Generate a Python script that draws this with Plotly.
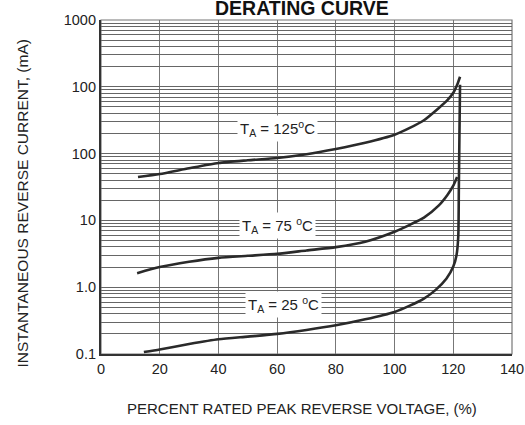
import math
import plotly.graph_objects as go

# ---- data ----
x_125 = [12.6, 20, 30, 40, 50, 60, 70, 80, 90, 100, 105, 110, 115, 118, 120, 121.5, 122.3]
y_125 = [44.7, 49.5, 60.3, 72.4, 79.4, 85.9, 97.7, 117, 145, 191, 240, 316, 479, 631, 813, 1122, 1413]

x_75 = [12.3, 20, 30, 40, 50, 60, 70, 80, 90, 100, 105, 110, 115, 118, 120, 121.3]
y_75 = [1.62, 2.00, 2.40, 2.75, 2.95, 3.16, 3.55, 3.98, 4.79, 6.76, 8.51, 11.0, 16.6, 24.0, 33.1, 44.7]

x_25 = [14.6, 20, 30, 40, 50, 60, 70, 80, 90, 100, 105, 110, 114, 117.7, 120, 121.1, 121.7, 121.9, 122.1, 122.3]
y_25 = [0.107, 0.117, 0.141, 0.166, 0.182, 0.200, 0.229, 0.269, 0.331, 0.427, 0.525, 0.676, 0.912,
        1.35, 2.04, 3.02, 5.75, 31.6, 200, 1072]

x_ticks = [0, 20, 40, 60, 80, 100, 120, 140]
y_decades = [0.1, 1, 10, 100, 1000, 10000]
y_decade_labels = ["0.1", "1.0", "10", "100", "100", "1000"]

curve_labels = ["T<sub>A</sub> = 125<sup>o</sup>C", "T<sub>A</sub> = 75 <sup>o</sup>C", "T<sub>A</sub> = 25 <sup>o</sup>C"]
label_x = [60.1, 60.0, 62.2]
label_y = [241, 8.5, 0.56]

title_text = "DERATING CURVE"
x_title = "PERCENT RATED PEAK REVERSE VOLTAGE, (%)"
y_title = "INSTANTANEOUS REVERSE CURRENT, (mA)"

# ---- build y grid (decades + minor digits) ----
tickvals, ticktext = [], []
for i, d in enumerate(y_decades):
    tickvals.append(d)
    ticktext.append(y_decade_labels[i])
    if i < len(y_decades) - 1:
        for k in range(2, 10):
            tickvals.append(d * k)
            ticktext.append("")

TICKF = "Liberation Sans, Arial, sans-serif"
REG = "Liberation Sans, Arial, sans-serif"
LINE = "#2a2a2a"

fig = go.Figure()
for xs, ys in [(x_125, y_125), (x_75, y_75), (x_25, y_25)]:
    fig.add_trace(go.Scatter(x=xs, y=ys, mode="lines",
                             line=dict(color=LINE, width=2.6, shape="spline", smoothing=0.6),
                             showlegend=False, hoverinfo="skip"))

for t, lx, ly in zip(curve_labels, label_x, label_y):
    fig.add_annotation(x=lx, y=math.log10(ly), xref="x", yref="y", text=t, showarrow=False,
                       font=dict(family=TICKF, size=15, color="#222"),
                       bgcolor="white", borderpad=2)

fig.add_annotation(x=0.49, y=1, xref="paper", yref="paper", yanchor="bottom", yshift=-1,
                   text="<b>" + title_text + "</b>", showarrow=False,
                   font=dict(family=REG, size=19.5, color="#111"))
fig.add_annotation(x=0.49, y=-0.195, xref="paper", yref="paper",
                   text=x_title, showarrow=False,
                   font=dict(family=REG, size=15, color="#222"))
fig.add_annotation(x=-0.2166, y=0.452, xref="paper", yref="paper", textangle=-90,
                   text=y_title, showarrow=False,
                   font=dict(family=REG, size=15.5, color="#222"))

fig.add_shape(type="rect", xref="paper", yref="paper", x0=0, y0=0, x1=1, y1=1,
              line=dict(color="#777", width=1.2), layer="below")

fig.update_xaxes(range=[0, 140.001], tickvals=x_ticks, ticktext=[str(v) for v in x_ticks],
                 showgrid=True, gridcolor="#777", gridwidth=1.2, zeroline=False,
                 showline=True, linecolor="#333", linewidth=2.2, ticks="", automargin=False,
                 tickfont=dict(family=TICKF, size=14.5, color="#222"))
fig.update_yaxes(type="log", range=[-1, 4], tickvals=tickvals, ticktext=ticktext,
                 showgrid=True, gridcolor="#666", gridwidth=1, zeroline=False,
                 showline=True, linecolor="#333", linewidth=2.2, ticks="", automargin=False,
                 tickfont=dict(family=TICKF, size=14.5, color="#222"))

fig.update_layout(width=525, height=425, margin=dict(l=101, r=13, t=20, b=71),
                  paper_bgcolor="white", plot_bgcolor="white")

fig.write_html("out.html", config={"displayModeBar": False},
               post_script="document.body.style.margin='0';document.body.style.overflow='hidden';")
